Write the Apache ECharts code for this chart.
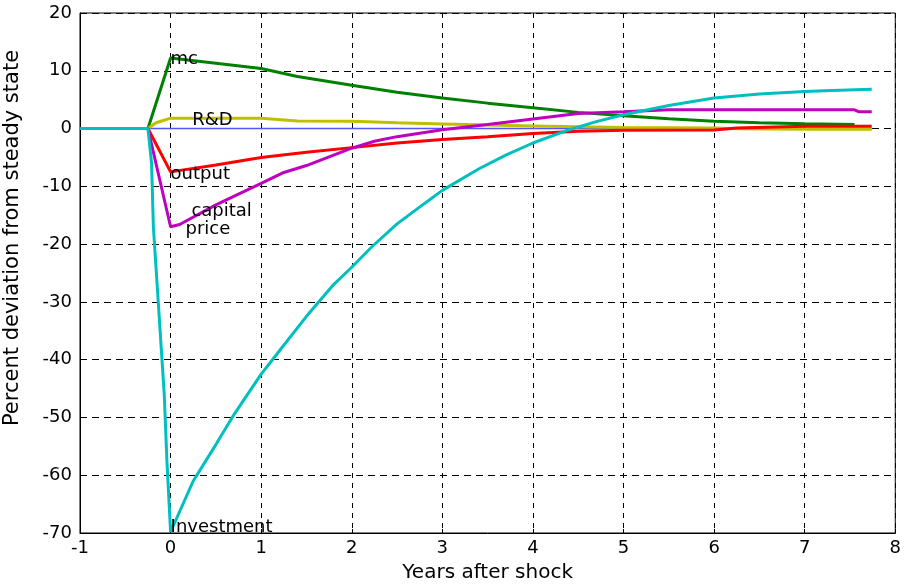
<!DOCTYPE html>
<html>
<head>
<meta charset="utf-8">
<script src="https://cdn.jsdelivr.net/npm/echarts@6/dist/echarts.min.js"></script>
<style>
    html, body {margin: 0; padding: 0; background: #fff;}
    #chart {width: 904px; height: 588px;}
</style>
</head>
<body>
<div id="chart"></div>
<script>
// impulse responses, [years after shock, percent deviation]
var zeroLine = [[-1, 0], [7.74, 0]];
var mcData = [[-1, 0], [-0.25, 0], [0, 12.2], [0.5, 11.3], [1, 10.4], [1.4, 9.0], [2, 7.5], [2.5, 6.3],
    [3, 5.3], [3.5, 4.4], [4, 3.6], [4.5, 2.8], [5, 2.2], [5.5, 1.7], [6, 1.25], [6.5, 1.0], [7, 0.85], [7.55, 0.7]];
var rdData = [[-1, 0], [-0.25, 0], [-0.16, 1.0], [0, 1.8], [1, 1.8], [1.4, 1.3], [2, 1.25], [2.5, 1.0],
    [3, 0.8], [3.5, 0.6], [4, 0.45], [4.5, 0.3], [5, 0.2], [6, 0.1], [6.3, -0.05], [7, -0.1], [7.74, -0.1]];
var outputData = [[-1, 0], [-0.25, 0], [0, -7.5], [0.5, -6.3], [1, -5.0], [1.5, -4.1], [2, -3.3], [2.5, -2.5],
    [3, -1.9], [3.5, -1.4], [4, -0.85], [4.5, -0.45], [5, -0.3], [6, -0.25], [6.25, 0.1], [7, 0.4], [7.74, 0.4]];
var capPriceData = [[-1, 0], [-0.25, 0], [0, -17.0], [0.1, -16.6], [0.5, -13.2], [1, -9.5], [1.25, -7.6],
    [1.5, -6.4], [2, -3.4], [2.25, -2.2], [2.5, -1.4], [3, -0.2], [3.5, 0.7], [4, 1.65], [4.5, 2.6], [5, 2.9],
    [5.5, 3.25], [6, 3.25], [7, 3.25], [7.55, 3.25], [7.6, 2.9], [7.74, 2.9]];
var investData = [[-1, 0], [-0.25, 0], [-0.21, -6], [-0.19, -17], [-0.07, -46], [-0.04, -57.7], [0, -69.8],
    [0.25, -61], [0.5, -54.7], [0.7, -49.5], [1, -42.5], [1.2, -38.5], [1.5, -32.5], [1.8, -27], [2, -24],
    [2.22, -20.5], [2.5, -16.5], [2.8, -13], [3, -10.7], [3.4, -7], [3.7, -4.6], [4, -2.5], [4.4, -0.2],
    [4.7, 1.2], [5, 2.4], [5.5, 4.0], [6, 5.3], [6.5, 6.0], [7, 6.4], [7.3, 6.6], [7.74, 6.8]];

// text annotations next to the curves
var curveLabels = [
    {name: 'mc', value: [0, 11.9]},
    {name: 'R&D', value: [0.24, 1.4]},
    {name: 'output', value: [0, -8.0]},
    {name: 'capital', value: [0.23, -14.4]},
    {name: 'price', value: [0.165, -17.4]},
    {name: 'Investment', value: [0, -69.0]}
];

var font = 'DejaVu Sans';

function curve(name, data, color, width) {
    return {
        name: name,
        type: 'line',
        data: data,
        symbol: 'none',
        lineStyle: {color: color, width: width},
        animation: false
    };
}

var chart = echarts.init(document.getElementById('chart'));
chart.setOption({
    backgroundColor: '#fff',
    grid: {left: 80, right: 6, top: 13, bottom: 51, show: true, borderColor: '#000', borderWidth: 1},
    xAxis: {
        type: 'value',
        min: -1,
        max: 8,
        interval: 1,
        name: 'Years after shock',
        nameLocation: 'middle',
        nameGap: 30,
        nameTextStyle: {fontFamily: font, fontSize: 20, color: '#000'},
        axisLine: {onZero: false, lineStyle: {color: '#000', width: 1}},
        axisTick: {inside: true, length: 4, lineStyle: {color: '#000'}},
        axisLabel: {fontFamily: font, fontSize: 18, color: '#000', margin: 6},
        splitLine: {lineStyle: {color: '#000', type: [5, 5], width: 1}}
    },
    yAxis: {
        type: 'value',
        min: -70,
        max: 20,
        interval: 10,
        axisLine: {onZero: false, lineStyle: {color: '#000', width: 1}},
        axisTick: {inside: true, length: 4, lineStyle: {color: '#000'}},
        axisLabel: {fontFamily: font, fontSize: 18, color: '#000', margin: 8},
        splitLine: {lineStyle: {color: '#000', type: [7, 5], width: 1}}
    },
    graphic: [{
        type: 'text',
        x: 13,
        y: 238,
        rotation: Math.PI / 2,
        style: {
            text: 'Percent deviation from steady state',
            font: '21px "DejaVu Sans"',
            fill: '#000',
            align: 'center',
            verticalAlign: 'middle'
        }
    }],
    series: [
        curve('zero', zeroLine, '#5555ff', 1.5),
        curve('mc', mcData, '#008000', 3),
        curve('R&D', rdData, '#bfbf00', 3),
        curve('output', outputData, '#ff0000', 3),
        curve('capital price', capPriceData, '#bf00bf', 3),
        curve('Investment', investData, '#00bfbf', 3),
        {
            type: 'scatter',
            data: curveLabels,
            symbolSize: 0,
            z: 5,
            animation: false,
            itemStyle: {opacity: 1},
            label: {
                show: true,
                position: 'right',
                distance: 0,
                formatter: '{b}',
                fontFamily: font,
                fontSize: 18,
                color: '#000'
            }
        }
    ]
});
</script>
</body>
</html>
